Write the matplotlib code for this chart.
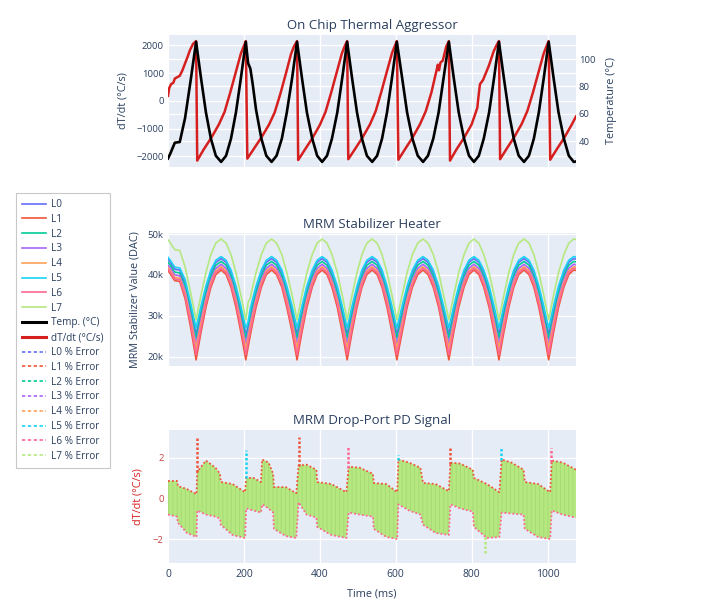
import numpy as np
import matplotlib.pyplot as plt
from matplotlib.lines import Line2D

plt.rcParams['font.family'] = ['Open Sans', 'DejaVu Sans']
plt.rcParams['text.color'] = '#2a3f5f'
plt.rcParams['axes.labelcolor'] = '#2a3f5f'
plt.rcParams['xtick.color'] = '#2a3f5f'
plt.rcParams['ytick.color'] = '#2a3f5f'
plt.rcParams['hatch.linewidth'] = 0.7

# ---- data ----
line_names = ['L0', 'L1', 'L2', 'L3', 'L4', 'L5', 'L6', 'L7']
line_colors = ['#636EFA', '#EF553B', '#00CC96', '#AB63FA', '#FFA15A', '#19D3F3', '#FF6692', '#B6E880']

# time grid (ms) for temperature and heater traces
t_grid = [0, 6, 12, 18, 31, 45, 60,
          74, 87, 100, 113, 126, 140, 153, 166, 179, 192,
          205, 211, 217, 223, 232, 246, 259, 273, 286, 300, 313, 327,
          340, 353, 366, 380, 393, 406, 419, 432, 446, 459,
          472, 485, 498, 511, 524, 538, 551, 564, 577, 590,
          603, 617, 630, 644, 658, 672, 685, 699, 713, 726,
          740, 753, 766, 780, 793, 806, 819, 832, 846, 859,
          872, 885, 898, 911, 924, 938, 951, 964, 977, 990,
          1003, 1016, 1029, 1043, 1056, 1069, 1075]

temp_c = [27.5, 31, 35, 39, 39.5, 57, 85,
          112.5, 86, 61, 42, 29.5, 25, 29.5, 42, 61, 86,
          112.5, 97, 93, 82, 63, 42, 29.5, 25, 29.5, 42, 61, 86,
          112.5, 86, 61, 42, 29.5, 25, 29.5, 42, 61, 86,
          112.5, 86, 61, 42, 29.5, 25, 29.5, 42, 61, 86,
          112.5, 86, 61, 42, 29.5, 25, 29.5, 42, 61, 86,
          112.5, 86, 61, 42, 29.5, 25, 29.5, 42, 61, 86,
          112.5, 86, 61, 42, 29.5, 25, 29.5, 42, 61, 86,
          112.5, 86, 61, 42, 29.5, 25, 25.3]

dtdt_t = [0, 3, 8, 14, 18, 24, 31, 38, 45, 52, 58, 66, 74,
          77, 94, 114, 134, 149, 164, 179, 192, 200, 205,
          209, 226, 246, 266, 281, 296, 311, 324, 332, 340,
          343, 360, 380, 400, 415, 430, 445, 458, 466, 472,
          475, 492, 512, 532, 547, 562, 577, 590, 598, 603,
          607, 624, 644, 664, 679, 694, 711, 714, 718, 724, 733, 740,
          743, 760, 780, 800, 815, 818, 822, 830, 845, 858, 866, 872,
          875, 892, 912, 932, 947, 962, 977, 990, 998, 1003,
          1007, 1024, 1044, 1064, 1075]
dtdt = [180, 450, 600, 650, 800, 850, 900, 1100, 1350, 1600, 1830, 2050, 2150,
        -2150, -1750, -1330, -850, -400, 300, 1050, 1700, 1980, 2150,
        -2080, -1730, -1320, -860, -420, 250, 1000, 1680, 1960, 2150,
        -2130, -1770, -1350, -870, -400, 300, 1050, 1700, 1980, 2150,
        -2100, -1750, -1330, -850, -380, 320, 1070, 1710, 1990, 2150,
        -2120, -1750, -1330, -840, -380, 300, 1300, 1100, 1380, 1450, 1950, 2150,
        -2150, -1750, -1330, -850, -250, 150, 600, 750, 1250, 1780, 2010, 2150,
        -2100, -1730, -1310, -830, -360, 320, 1070, 1710, 1990, 2150,
        -2120, -1750, -1330, -850, -560]

# heater DAC values (in thousands), same time grid
heater_l0 = [43.8, 43.1, 42.2, 41.4, 41.2, 38.1, 31.9,
             25.5, 31.2, 36.4, 40.5, 43.1, 44.0, 43.1, 40.5, 36.4, 31.2,
             25.5, 27.4, 30.6, 33.0, 36.4, 40.5, 43.1, 44.0, 43.1, 40.5, 36.4, 31.2,
             25.5, 31.2, 36.4, 40.5, 43.1, 44.0, 43.1, 40.5, 36.4, 31.2,
             25.5, 31.2, 36.4, 40.5, 43.1, 44.0, 43.1, 40.5, 36.4, 31.2,
             25.5, 31.2, 36.4, 40.5, 43.1, 44.0, 43.1, 40.5, 36.4, 31.2,
             25.5, 31.2, 36.4, 40.5, 43.1, 44.0, 43.1, 40.5, 36.4, 31.2,
             25.5, 31.2, 36.4, 40.5, 43.1, 44.0, 43.1, 40.5, 36.4, 31.2,
             25.5, 31.2, 36.4, 40.5, 43.1, 44.0, 43.9]
heater_l1 = [41.0, 40.3, 39.4, 38.6, 38.4, 34.2, 27.0,
             19.2, 26.0, 32.1, 37.0, 40.1, 41.2, 40.1, 37.0, 32.1, 26.0,
             19.2, 22.3, 25.3, 28.2, 32.1, 37.0, 40.1, 41.2, 40.1, 37.0, 32.1, 26.0,
             19.2, 26.0, 32.1, 37.0, 40.1, 41.2, 40.1, 37.0, 32.1, 26.0,
             19.2, 26.0, 32.1, 37.0, 40.1, 41.2, 40.1, 37.0, 32.1, 26.0,
             19.2, 26.0, 32.1, 37.0, 40.1, 41.2, 40.1, 37.0, 32.1, 26.0,
             19.2, 26.0, 32.1, 37.0, 40.1, 41.2, 40.1, 37.0, 32.1, 26.0,
             19.2, 26.0, 32.1, 37.0, 40.1, 41.2, 40.1, 37.0, 32.1, 26.0,
             19.2, 26.0, 32.1, 37.0, 40.1, 41.2, 41.1]
heater_l2 = [43.1, 42.4, 41.5, 40.7, 40.5, 37.3, 31.1,
             24.5, 30.3, 35.6, 39.7, 42.4, 43.3, 42.4, 39.7, 35.6, 30.3,
             24.5, 26.8, 29.7, 32.2, 35.6, 39.7, 42.4, 43.3, 42.4, 39.7, 35.6, 30.3,
             24.5, 30.3, 35.6, 39.7, 42.4, 43.3, 42.4, 39.7, 35.6, 30.3,
             24.5, 30.3, 35.6, 39.7, 42.4, 43.3, 42.4, 39.7, 35.6, 30.3,
             24.5, 30.3, 35.6, 39.7, 42.4, 43.3, 42.4, 39.7, 35.6, 30.3,
             24.5, 30.3, 35.6, 39.7, 42.4, 43.3, 42.4, 39.7, 35.6, 30.3,
             24.5, 30.3, 35.6, 39.7, 42.4, 43.3, 42.4, 39.7, 35.6, 30.3,
             24.5, 30.3, 35.6, 39.7, 42.4, 43.3, 43.2]
heater_l3 = [42.4, 41.7, 40.8, 40.0, 39.8, 36.3, 29.9,
             23.0, 29.1, 34.5, 38.9, 41.6, 42.6, 41.6, 38.9, 34.5, 29.1,
             23.0, 25.9, 28.4, 31.0, 34.5, 38.9, 41.6, 42.6, 41.6, 38.9, 34.5, 29.1,
             23.0, 29.1, 34.5, 38.9, 41.6, 42.6, 41.6, 38.9, 34.5, 29.1,
             23.0, 29.1, 34.5, 38.9, 41.6, 42.6, 41.6, 38.9, 34.5, 29.1,
             23.0, 29.1, 34.5, 38.9, 41.6, 42.6, 41.6, 38.9, 34.5, 29.1,
             23.0, 29.1, 34.5, 38.9, 41.6, 42.6, 41.6, 38.9, 34.5, 29.1,
             23.0, 29.1, 34.5, 38.9, 41.6, 42.6, 41.6, 38.9, 34.5, 29.1,
             23.0, 29.1, 34.5, 38.9, 41.6, 42.6, 42.5]
heater_l4 = [41.8, 41.1, 40.2, 39.4, 39.2, 35.6, 29.0,
             22.0, 28.2, 33.8, 38.2, 41.0, 42.0, 41.0, 38.2, 33.8, 28.2,
             22.0, 24.6, 27.5, 30.1, 33.8, 38.2, 41.0, 42.0, 41.0, 38.2, 33.8, 28.2,
             22.0, 28.2, 33.8, 38.2, 41.0, 42.0, 41.0, 38.2, 33.8, 28.2,
             22.0, 28.2, 33.8, 38.2, 41.0, 42.0, 41.0, 38.2, 33.8, 28.2,
             22.0, 28.2, 33.8, 38.2, 41.0, 42.0, 41.0, 38.2, 33.8, 28.2,
             22.0, 28.2, 33.8, 38.2, 41.0, 42.0, 41.0, 38.2, 33.8, 28.2,
             22.0, 28.2, 33.8, 38.2, 41.0, 42.0, 41.0, 38.2, 33.8, 28.2,
             22.0, 28.2, 33.8, 38.2, 41.0, 42.0, 41.9]
heater_l5 = [44.3, 43.6, 42.7, 41.9, 41.7, 38.9, 33.0,
             27.0, 32.4, 37.3, 41.2, 43.6, 44.5, 43.6, 41.2, 37.3, 32.4,
             27.0, 28.5, 31.8, 34.1, 37.3, 41.2, 43.6, 44.5, 43.6, 41.2, 37.3, 32.4,
             27.0, 32.4, 37.3, 41.2, 43.6, 44.5, 43.6, 41.2, 37.3, 32.4,
             27.0, 32.4, 37.3, 41.2, 43.6, 44.5, 43.6, 41.2, 37.3, 32.4,
             27.0, 32.4, 37.3, 41.2, 43.6, 44.5, 43.6, 41.2, 37.3, 32.4,
             27.0, 32.4, 37.3, 41.2, 43.6, 44.5, 43.6, 41.2, 37.3, 32.4,
             27.0, 32.4, 37.3, 41.2, 43.6, 44.5, 43.6, 41.2, 37.3, 32.4,
             27.0, 32.4, 37.3, 41.2, 43.6, 44.5, 44.4]
heater_l6 = [41.4, 40.7, 39.8, 39.0, 38.8, 34.8, 27.9,
             20.5, 27.0, 32.9, 37.6, 40.6, 41.6, 40.6, 37.6, 32.9, 27.0,
             20.5, 23.4, 26.3, 29.1, 32.9, 37.6, 40.6, 41.6, 40.6, 37.6, 32.9, 27.0,
             20.5, 27.0, 32.9, 37.6, 40.6, 41.6, 40.6, 37.6, 32.9, 27.0,
             20.5, 27.0, 32.9, 37.6, 40.6, 41.6, 40.6, 37.6, 32.9, 27.0,
             20.5, 27.0, 32.9, 37.6, 40.6, 41.6, 40.6, 37.6, 32.9, 27.0,
             20.5, 27.0, 32.9, 37.6, 40.6, 41.6, 40.6, 37.6, 32.9, 27.0,
             20.5, 27.0, 32.9, 37.6, 40.6, 41.6, 40.6, 37.6, 32.9, 27.0,
             20.5, 27.0, 32.9, 37.6, 40.6, 41.6, 41.5]
heater_l7 = [48.6, 47.9, 47.0, 46.2, 46.0, 42.0, 35.5,
             29.0, 35.1, 40.6, 45.0, 47.8, 48.8, 47.8, 45.0, 40.6, 35.1,
             29.0, 33.2, 34.4, 37.1, 40.6, 45.0, 47.8, 48.8, 47.8, 45.0, 40.6, 35.1,
             29.0, 35.1, 40.6, 45.0, 47.8, 48.8, 47.8, 45.0, 40.6, 35.1,
             29.0, 35.1, 40.6, 45.0, 47.8, 48.8, 47.8, 45.0, 40.6, 35.1,
             29.0, 35.1, 40.6, 45.0, 47.8, 48.8, 47.8, 45.0, 40.6, 35.1,
             29.0, 35.1, 40.6, 45.0, 47.8, 48.8, 47.8, 45.0, 40.6, 35.1,
             29.0, 35.1, 40.6, 45.0, 47.8, 48.8, 47.8, 45.0, 40.6, 35.1,
             29.0, 35.1, 40.6, 45.0, 47.8, 48.8, 48.7]
heaters = [heater_l0, heater_l1, heater_l2, heater_l3, heater_l4, heater_l5, heater_l6, heater_l7]

# drop-port error band (outer edges of the dense % error traces)
err_t = [0, 24, 26, 50, 75, 77, 100, 125, 137, 139, 170, 203, 206, 225, 245, 248, 265, 277,
         279, 310, 338, 344, 365, 391, 393, 430, 470, 476, 505, 540, 542, 575, 604, 607, 635,
         665, 672, 705, 740, 744, 770, 803, 806, 840, 873, 879, 905, 937, 940, 975, 1007, 1011,
         1040, 1075]
err_hi = [0.85, 0.85, 0.6, 0.45, 0.2, 1.3, 1.85, 1.5, 1.2, 0.8, 0.7, 0.3, 1.0, 1.0, 0.8, 1.9, 1.75, 1.2,
          0.55, 0.55, 0.25, 1.6, 1.65, 1.4, 0.8, 0.7, 0.3, 1.55, 1.5, 1.2, 0.75, 0.7, 0.3, 1.9, 1.75,
          1.5, 0.75, 0.7, 0.35, 1.75, 1.7, 1.4, 1.0, 0.7, 0.3, 1.9, 1.75, 1.4, 0.8, 0.7, 0.3, 1.85,
          1.75, 1.4]
err_lo = [-0.8, -0.9, -1.2, -1.7, -1.9, -0.6, -0.8, -0.9, -1.0, -1.3, -1.8, -1.95, -0.5, -0.6, -0.7, -0.3, -0.5, -0.7,
          -1.5, -1.85, -1.95, -0.2, -0.8, -0.95, -1.4, -1.8, -1.95, -0.7, -0.8, -0.9, -1.5, -1.9, -2.0, -0.3, -0.6,
          -0.8, -1.3, -1.7, -1.8, -0.3, -0.5, -0.65, -1.4, -1.95, -1.9, -0.7, -0.75, -0.8, -1.5, -1.9, -2.0, -0.6,
          -0.8, -0.95]
# spikes at the thermal peaks
spike_t = [77, 205, 344, 475, 606, 742, 834, 878, 1010]
spike_lo = [1.3, 1.0, 1.6, 1.5, 1.9, 1.7, -1.9, 1.9, 1.8]
spike_hi = [3.0, 2.35, 3.0, 2.5, 2.1, 2.45, -2.7, 2.45, 2.45]
spike_color = [1, 5, 1, 6, 5, 1, 7, 5, 6]

xmax = 1075
bg = '#E5ECF6'
red = '#D62020'


def style_ax(ax):
    ax.set_facecolor(bg)
    for s in ax.spines.values():
        s.set_visible(False)
    ax.tick_params(length=0, labelsize=6.8, pad=3)
    ax.grid(True, color='white', linewidth=1)
    ax.set_axisbelow(True)
    ax.set_xlim(0, xmax)
    ax.set_xticks([0, 200, 400, 600, 800, 1000])


fig = plt.figure(figsize=(7.2, 6.16), dpi=100)

# ---- top: thermal aggressor ----
ax1 = fig.add_axes([168/720, 1-166.7/616, 408/720, 131.7/616])
style_ax(ax1)
ax1.tick_params(labelbottom=False)
ax1.set_ylim(-2370, 2370)
ax1.set_yticks([-2000, -1000, 0, 1000, 2000])
t_lo, t_hi = 21.5, 117.5
for v in [40, 60, 80, 100]:
    ax1.axhline(-2370 + (v - t_lo) / (t_hi - t_lo) * 4740, color='white', lw=1, zorder=0.5)
ax1.plot(dtdt_t, dtdt, color=red, lw=1.8)
ax1.set_ylabel('dT/dt (°C/s)', fontsize=7.8, labelpad=6)
ax1.set_title('On Chip Thermal Aggressor', fontsize=9.5, pad=4)

ax2 = ax1.twinx()
for s in ax2.spines.values():
    s.set_visible(False)
ax2.set_ylim(t_lo, t_hi)
ax2.set_yticks([40, 60, 80, 100])
ax2.tick_params(length=0, labelsize=6.8, pad=2)
ax2.plot(t_grid, temp_c, color='black', lw=1.9)
ax2.set_ylabel('Temperature (°C)', fontsize=7.8, labelpad=8)

# ---- middle: stabilizer heater ----
ax3 = fig.add_axes([168/720, 1-366/616, 408/720, 132.7/616])
style_ax(ax3)
ax3.tick_params(labelbottom=False)
for i in range(8):
    ax3.plot(t_grid, np.array(heaters[i]) * 1000, color=line_colors[i], lw=1.2)
ax3.set_ylim(17700, 50200)
ax3.set_yticks([20000, 30000, 40000, 50000])
ax3.set_yticklabels(['20k', '30k', '40k', '50k'])
ax3.set_ylabel('MRM Stabilizer Value (DAC)', fontsize=7.8, labelpad=5)
ax3.set_title('MRM Stabilizer Heater', fontsize=9.5, pad=4)

# ---- bottom: drop-port PD signal ----
ax4 = fig.add_axes([168/720, 1-563.3/616, 408/720, 133.3/616])
style_ax(ax4)
ax4.plot(err_t, err_hi, color=line_colors[1], ls=(0, (1, 1.2)), lw=1.3)
ax4.plot(err_t, err_lo, color=line_colors[6], ls=(0, (1, 1.2)), lw=1.3)
for i in range(len(spike_t)):
    ax4.plot([spike_t[i], spike_t[i]], [spike_lo[i], spike_hi[i]],
             color=line_colors[spike_color[i]], ls=(0, (1, 0.8)), lw=1.8)
ax4.fill_between(err_t, err_lo, err_hi, facecolor=line_colors[7], edgecolor='#A6DA78',
                 hatch='||||', linewidth=0)
ax4.set_ylim(-3.19, 3.35)
ax4.set_yticks([-2, 0, 2])
ax4.tick_params(axis='y', colors='#C94040')
ax4.tick_params(axis='x', labelsize=7.5, pad=4)
ax4.set_ylabel('dT/dt (°C/s)', fontsize=7.8, color=red, labelpad=7)
ax4.set_xlabel('Time (ms)', fontsize=7.8, labelpad=6)
ax4.set_title('MRM Drop-Port PD Signal', fontsize=9.5, pad=4)

# ---- legend ----
handles = []
labels = []
for i in range(8):
    handles.append(Line2D([], [], color=line_colors[i], lw=1.2))
    labels.append(line_names[i])
handles.append(Line2D([], [], color='black', lw=2.2))
labels.append('Temp. (°C)')
handles.append(Line2D([], [], color=red, lw=2.2))
labels.append('dT/dt (°C/s)')
for i in range(8):
    handles.append(Line2D([], [], color=line_colors[i], lw=1.2, ls=(0, (2, 1.5))))
    labels.append(line_names[i] + ' % Error')
leg = fig.legend(handles, labels, loc='upper left', bbox_to_anchor=(16/720, 1-193/616),
                 borderaxespad=0, fontsize=7.2, frameon=True, fancybox=False,
                 edgecolor='#bbbbbb', handlelength=2.4, handletextpad=0.5,
                 labelspacing=0.38, borderpad=0.6)
leg.get_frame().set_linewidth(0.8)

fig.savefig('out.png', dpi=100)
